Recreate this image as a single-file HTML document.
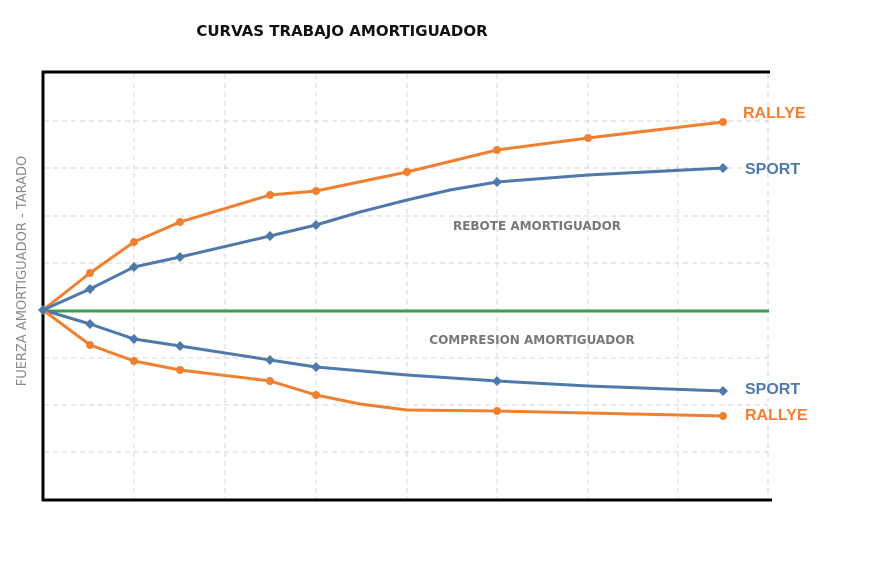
<!DOCTYPE html>
<html><head><meta charset="utf-8"><style>body{margin:0;background:#fff}svg{display:block}</style></head>
<body>
<svg width="869" height="581" viewBox="0 0 869 581" xmlns="http://www.w3.org/2000/svg">
<rect width="869" height="581" fill="#fff"/>
<g stroke="#d4d4d4" stroke-width="1" stroke-dasharray="5,4" fill="none">
<line x1="134" y1="74" x2="134" y2="499"/><line x1="225" y1="74" x2="225" y2="499"/>
<line x1="316" y1="74" x2="316" y2="499"/><line x1="407" y1="74" x2="407" y2="499"/>
<line x1="497" y1="74" x2="497" y2="499"/><line x1="588" y1="74" x2="588" y2="499"/>
<line x1="678" y1="74" x2="678" y2="499"/><line x1="768" y1="74" x2="768" y2="499"/>
<line x1="44" y1="121" x2="768" y2="121"/><line x1="44" y1="168" x2="768" y2="168"/>
<line x1="44" y1="216" x2="768" y2="216"/><line x1="44" y1="263" x2="768" y2="263"/>
<line x1="44" y1="358" x2="768" y2="358"/><line x1="44" y1="405" x2="768" y2="405"/>
<line x1="44" y1="452" x2="768" y2="452"/>
</g>
<line x1="43" y1="311" x2="769" y2="311" stroke="#3a9e54" stroke-width="3"/>
<line x1="42" y1="72" x2="770" y2="72" stroke="#000" stroke-width="3"/>
<line x1="43" y1="71" x2="43" y2="501" stroke="#000" stroke-width="3"/>
<line x1="42" y1="500" x2="772" y2="500" stroke="#000" stroke-width="3"/>
<g fill="none" stroke-width="3" stroke-linejoin="round">
<polyline stroke="#f08030" points="43,310 90,273 134,242 180,222 270,195 316,191 407,172 497,150 588,138 723,122"/>
<polyline stroke="#4f79aa" points="43,310 90,289 134,267 180,257 270,236 316,225 360,212 407,200 450,190 497,182 588,175 723,168"/>
<polyline stroke="#4f79aa" points="43,310 90,324 134,339 180,346 270,360 316,367 407,375 497,381 588,386 723,391"/>
<polyline stroke="#f08030" points="43,310 90,345 134,361 180,370 270,381 316,395 360,404 407,410 497,411 588,413 723,416"/>
</g>
<g fill="#f08030">
<circle cx="90" cy="273" r="4"/><circle cx="134" cy="242" r="4"/><circle cx="180" cy="222" r="4"/><circle cx="270" cy="195" r="4"/><circle cx="316" cy="191" r="4"/><circle cx="407" cy="172" r="4"/><circle cx="497" cy="150" r="4"/><circle cx="588" cy="138" r="4"/><circle cx="723" cy="122" r="4"/>
<circle cx="90" cy="345" r="4"/><circle cx="134" cy="361" r="4"/><circle cx="180" cy="370" r="4"/><circle cx="270" cy="381" r="4"/><circle cx="316" cy="395" r="4"/><circle cx="497" cy="411" r="4"/><circle cx="723" cy="416" r="4"/>
</g>
<g fill="#4f79aa">
<path d="M90 284l5 5-5 5-5-5zM134 262l5 5-5 5-5-5zM180 252l5 5-5 5-5-5zM270 231l5 5-5 5-5-5zM316 220l5 5-5 5-5-5zM497 177l5 5-5 5-5-5zM723 163l5 5-5 5-5-5z"/>
<path d="M90 319l5 5-5 5-5-5zM134 334l5 5-5 5-5-5zM180 341l5 5-5 5-5-5zM270 355l5 5-5 5-5-5zM316 362l5 5-5 5-5-5zM497 376l5 5-5 5-5-5zM723 386l5 5-5 5-5-5z"/>
<path d="M43 305l5 5-5 5-5-5z"/>
</g>
<text x="342" y="36" text-anchor="middle" font-family="'DejaVu Sans',sans-serif" font-size="15" font-weight="bold" fill="#111">CURVAS TRABAJO AMORTIGUADOR</text>
<g font-family="'Liberation Sans',Arial,sans-serif" font-weight="bold" font-size="16">
<text x="743" y="118" fill="#f08030">RALLYE</text>
<text x="745" y="174" fill="#4f79aa">SPORT</text>
<text x="745" y="394" fill="#4f79aa">SPORT</text>
<text x="745" y="420" fill="#f08030">RALLYE</text>
</g>
<g font-family="'DejaVu Sans',sans-serif" font-weight="bold" font-size="12" fill="#777">
<text x="537" y="230" text-anchor="middle">REBOTE AMORTIGUADOR</text>
<text x="532" y="344" text-anchor="middle">COMPRESION AMORTIGUADOR</text>
</g>
<text transform="translate(26,271) rotate(-90)" text-anchor="middle" font-family="'DejaVu Sans',sans-serif" font-size="13" fill="#888">FUERZA AMORTIGUADOR - TARADO</text>
</svg>
</body></html>
